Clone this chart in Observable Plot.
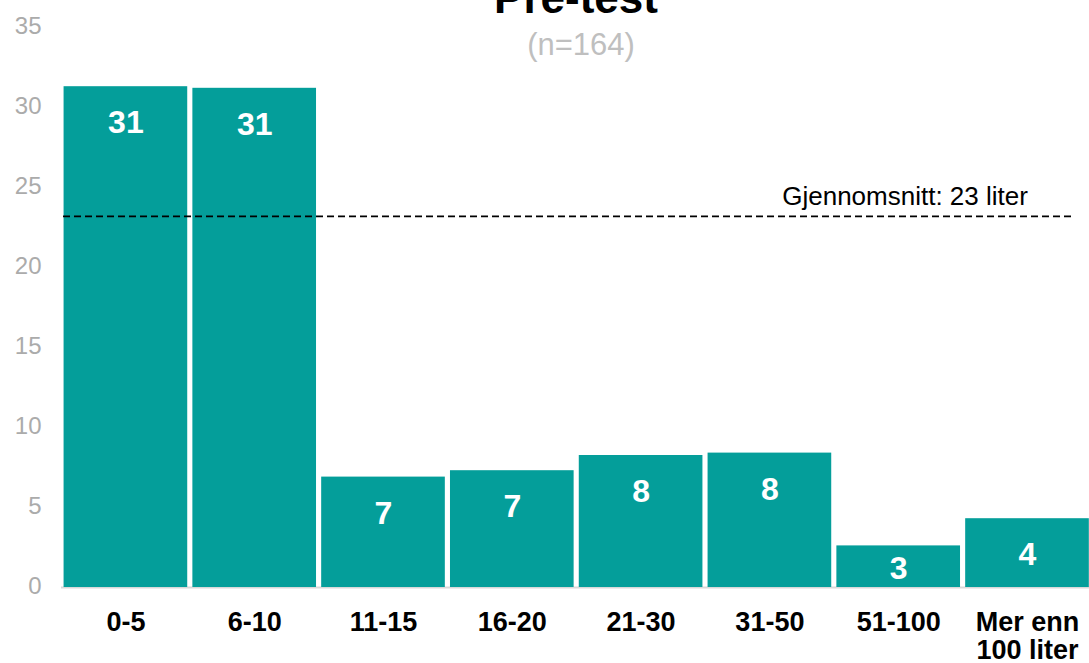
<!DOCTYPE html>
<html>
<head>
<meta charset="utf-8">
<script src="https://cdn.jsdelivr.net/npm/d3@7"></script>
<script src="https://cdn.jsdelivr.net/npm/@observablehq/plot@0.6"></script>
<style>
  html, body { margin: 0; padding: 0; background: #ffffff; overflow: hidden; }
  #wrap { position: relative; width: 1089px; height: 663px; overflow: hidden; font-family: "Liberation Sans", Arial, sans-serif; }
  #title { position: absolute; left: 61px; width: 1030px; top: -24px; text-align: center; font-size: 44px; line-height: 44px; font-weight: bold; color: #000; z-index: 2; }
  #subtitle { position: absolute; left: 61px; width: 1040px; top: 29px; text-align: center; font-size: 31px; line-height: 31px; color: #bfbfbf; z-index: 2; }
  #chart svg { max-width: none !important; }
</style>
</head>
<body>
<div id="wrap">
  <div id="title">Pre-test</div>
  <div id="subtitle">(n=164)</div>
  <div id="chart"></div>
</div>
<script>
const categories = ["0-5", "6-10", "11-15", "16-20", "21-30", "31-50", "51-100", "Mer enn\n100 liter"];
const values = [31.3, 31.2, 6.9, 7.3, 8.25, 8.4, 2.6, 4.3];
const meanValue = 23.2;
const meanLabel = "Gjennomsnitt: 23 liter";
const yTicks = [0, 5, 10, 15, 20, 25, 30, 35];

const data = categories.map((c, i) => ({category: c, value: values[i], label: String(Math.round(values[i]))}));

const teal = "#049e9a";

const chart = Plot.plot({
  width: 1095,
  height: 663,
  marginLeft: 61,
  marginRight: 3.6,
  marginTop: 27,
  marginBottom: 76,
  style: {fontFamily: "'Liberation Sans', Arial, sans-serif", background: "transparent", maxWidth: "none"},
  x: {domain: categories, paddingInner: 0.04, paddingOuter: 0.02, round: false, label: null},
  y: {domain: [0, 35], label: null},
  marks: [
    Plot.ruleY([0], {stroke: "#d9d9d9", strokeWidth: 2}),
    Plot.barY(data, {x: "category", y: "value", fill: teal}),
    Plot.text(data, {
      x: "category",
      y: d => Math.max(d.value - 2.28, 1.16),
      text: "label",
      fill: "white",
      fontSize: 32,
      fontWeight: "bold"
    }),
    Plot.ruleY([meanValue], {stroke: "black", strokeWidth: 1.8, strokeDasharray: "7,4", insetLeft: 2, insetRight: 20}),
    Plot.text([meanValue], {
      y: d => d,
      text: () => meanLabel,
      frameAnchor: "right",
      textAnchor: "end",
      dx: -64,
      dy: -20,
      fontSize: 26,
      fill: "black"
    }),
    Plot.axisY({ticks: yTicks, tickSize: 0, tickPadding: 20, fontSize: 24, color: "#ababab", dy: -1.5, label: null}),
    Plot.axisX({tickSize: 0, tickPadding: 23, fontSize: 27, fontWeight: "bold", color: "#000000", lineHeight: 1.05, label: null})
  ]
});

document.getElementById("chart").appendChild(chart);
</script>
</body>
</html>
